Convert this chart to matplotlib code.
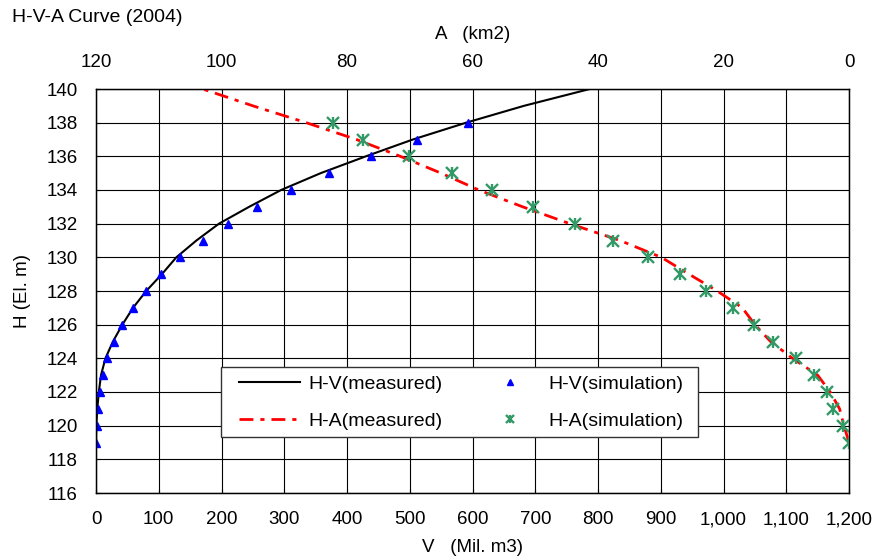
import matplotlib
matplotlib.use("Agg")
import matplotlib.pyplot as plt
from matplotlib.patches import Rectangle
from matplotlib.ticker import FuncFormatter, MultipleLocator

plt.rcParams['font.family'] = ['Liberation Sans', 'DejaVu Sans']

# measured H-V curve (El. m vs Mil. m3)
hv_meas_h = [119, 120, 121, 122, 123, 124, 125, 126, 127, 128, 129, 130,
             131, 132, 133, 134, 135, 136, 137, 138, 139, 140]
hv_meas_v = [0, 0.5, 2, 4.5, 8, 15, 27, 42, 59, 80, 105, 128,
             160, 196, 244, 295, 358, 430, 505, 590, 682, 787]

# measured H-A curve (El. m vs km2)
ha_meas_h = [119, 120, 121, 122, 123, 124, 125, 126, 127, 128, 129, 130,
             131, 132, 133, 134, 135, 136, 137, 138, 139, 140]
ha_meas_a = [0, 0.8, 1.5, 3.0, 5.0, 9.0, 12.5, 15.0, 17.0, 21.0, 25.5, 29.9,
             36.5, 44.5, 52.0, 59.0, 65.0, 71.5, 78.5, 86.5, 95.0, 103.0]

# simulation points
sim_h = [119, 120, 121, 122, 123, 124, 125, 126, 127, 128,
         129, 130, 131, 132, 133, 134, 135, 136, 137, 138]
sim_v = [0.5, 0.8, 3.7, 6.4, 10.7, 18, 28.7, 42, 58.5, 80,
         104, 134, 170, 211, 257, 310, 371, 438, 512, 593]
sim_a = [0, 1.0, 2.6, 3.5, 5.5, 8.4, 12.1, 15.1, 18.5, 22.8,
         27.0, 32.1, 37.6, 43.6, 50.4, 56.9, 63.3, 70.1, 77.4, 82.3]

W, H = 873, 559
fig = plt.figure(figsize=(W / 100, H / 100), dpi=100)
ax = fig.add_axes([96 / W, 1 - 493 / H, (849 - 96) / W, (493 - 89) / H])

fs = 13.5

# H-V on bottom axis
hv_line, = ax.plot(hv_meas_v, hv_meas_h, color='black', lw=1.5)
hv_pts, = ax.plot(sim_v, sim_h, ls='none', marker='^', ms=6,
                  color='#0000FF', mec='#0000FF')
ax.set_xlim(0, 1200)
ax.set_ylim(116, 140)
ax.xaxis.set_major_locator(MultipleLocator(100))
ax.yaxis.set_major_locator(MultipleLocator(2))
ax.xaxis.set_major_formatter(FuncFormatter(lambda x, p: f'{x:,.0f}'))
ax.grid(True, color='black', lw=0.8)
ax.tick_params(axis='both', direction='in', length=3, pad=13, labelsize=fs)
ax.set_xlabel('V   (Mil. m3)', fontsize=fs, labelpad=8)
ax.set_ylabel('H (El. m)', fontsize=fs, labelpad=11)
for s in ax.spines.values():
    s.set_linewidth(1.0)

# H-A on top (reversed) axis
ax2 = ax.twiny()
ha_line, = ax2.plot(ha_meas_a, ha_meas_h, color='#FF0000', lw=2,
                    ls=(0, (5, 2.5, 1.5, 2.5)))
sg = '#339966'
ha_x, = ax2.plot(sim_a, sim_h, ls='none', marker='x', ms=8, mew=1.7, color=sg)
ha_v, = ax2.plot(sim_a, sim_h, ls='none', marker='|', ms=8, mew=1.7, color=sg)
ax2.set_xlim(120, 0)
ax2.xaxis.set_major_locator(MultipleLocator(20))
ax2.tick_params(axis='x', direction='in', length=0, pad=13, labelsize=fs)
ax2.set_xlabel('A   (km2)', fontsize=fs, labelpad=11)

# legend frame drawn separately so the side padding can be wider than top/bottom
box = Rectangle((0.1656, 0.1386), 0.6339, 0.1733, transform=ax.transAxes,
                facecolor='white', edgecolor='#333333', lw=1.0,
                zorder=4.5, clip_on=False)
ax2.add_patch(box)

leg = ax2.legend([hv_line, ha_line, hv_pts, (ha_x, ha_v)],
                 ['H-V(measured)', 'H-A(measured)', 'H-V(simulation)', 'H-A(simulation)'],
                 ncol=2, loc='upper left',
                 bbox_to_anchor=(0.1899, 0.2908),
                 bbox_transform=ax.transAxes, borderaxespad=0, borderpad=0,
                 fontsize=14, handlelength=3.14, handletextpad=0.41,
                 columnspacing=1.9, labelspacing=0.98, markerscale=0.7,
                 frameon=False)
leg.set_zorder(5)

fig.text(12 / W, 1 - 17 / H, 'H-V-A Curve (2004)', fontsize=14, va='center', ha='left')

fig.savefig('out.png', dpi=100)
